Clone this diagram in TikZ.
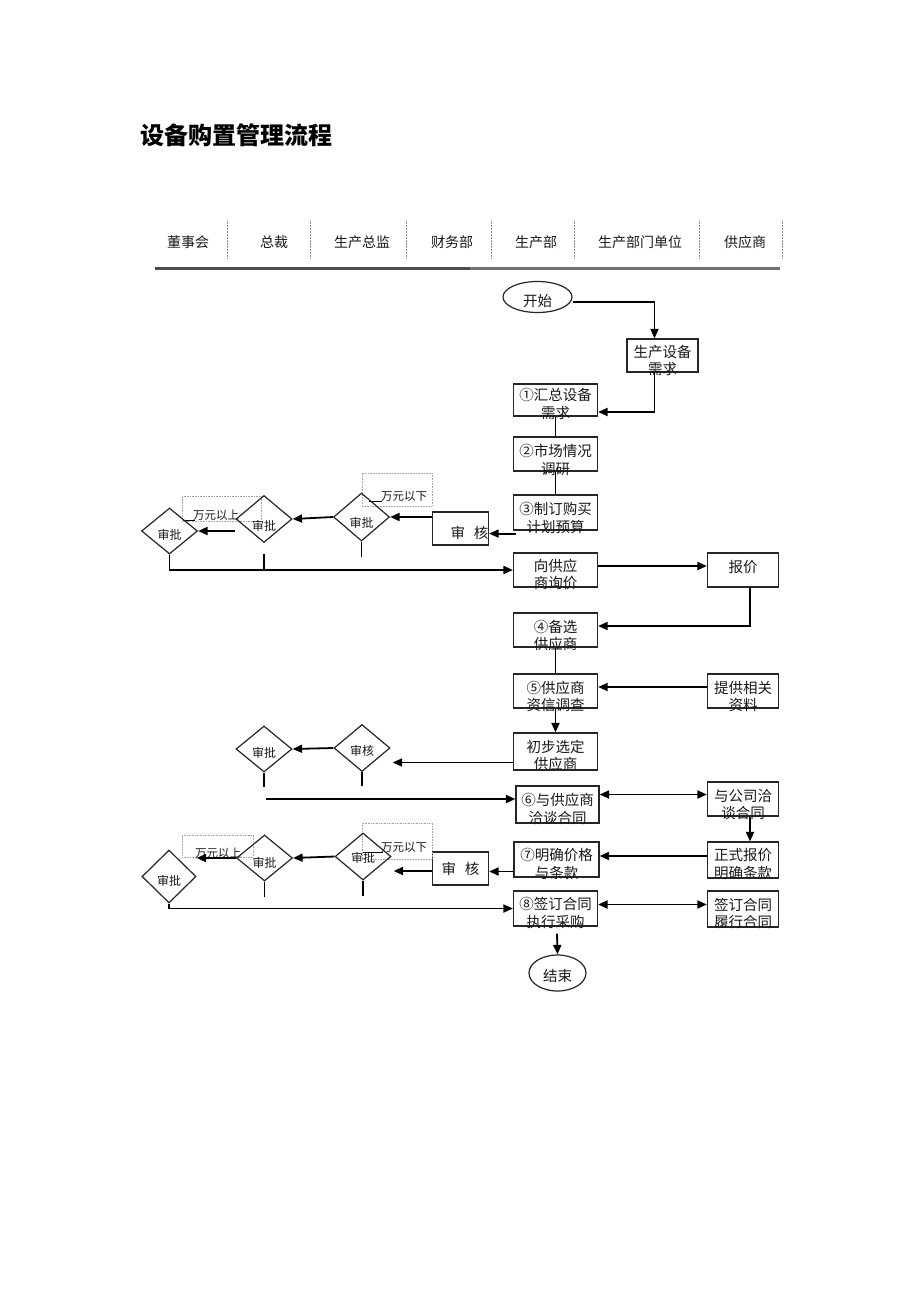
\documentclass[tikz,border=0pt]{standalone}
\usepackage{fontspec}
\setmainfont{Noto Sans CJK SC}
\usetikzlibrary{shapes.geometric,arrows.meta}
\begin{document}
\begin{tikzpicture}[x=1pt,y=-1pt,
  box/.style={draw=black!85,line width=1.2pt,rectangle,inner sep=0pt},
  dia/.style={draw=black!85,line width=1.2pt,diamond,inner sep=0pt},
  oval/.style={draw=black!85,line width=1.2pt,ellipse,inner sep=0pt},
  txt/.style={font=\fontsize{14.5}{17.5}\selectfont,align=center,text=black!90,inner sep=0pt},
  dtxt/.style={font=\fontsize{12}{14}\selectfont,text=black!90,inner sep=0pt},
  hdr/.style={font=\fontsize{14}{16}\selectfont,text=black!90,inner sep=0pt},
  ntxt/.style={font=\fontsize{11.5}{13}\selectfont,text=black!90,inner sep=0pt},
  sepline/.style={draw=black!45,line width=0.5pt,densely dotted},
  note/.style={draw=black!35,line width=0.6pt,densely dotted,rectangle,inner sep=0pt},
  conn/.style={line width=1.8pt,-{Triangle[length=9.5pt,width=8pt]}},
  dconn/.style={line width=1.8pt,{Triangle[length=9.5pt,width=8pt]}-{Triangle[length=9.5pt,width=8pt]}},
  plain/.style={line width=1.8pt},
  thin/.style={line width=0.9pt}
]
\useasboundingbox[fill=white] (0,0) rectangle (920,1302);

% title
\node[font=\fontsize{24}{28}\selectfont\bfseries,anchor=west,inner sep=0pt] (title) at (140,135) {设备购置管理流程};

% header
\node[hdr] (h1) at (188,242) {董事会};
\node[hdr] (h2) at (274,242) {总裁};
\node[hdr] (h3) at (362,242) {生产总监};
\node[hdr] (h4) at (452,242) {财务部};
\node[hdr] (h5) at (536,242) {生产部};
\node[hdr] (h6) at (640,242) {生产部门单位};
\node[hdr] (h7) at (745,242) {供应商};
\foreach \x in {227,310,406,491,574,699,782}{\draw[sepline] (\x,220) -- (\x,258);}
\draw[line width=3pt,black!70] (155,268) -- (470,268);
\draw[line width=3pt,black!55] (470,268) -- (780,268);

% main column
\node[oval,minimum width=69,minimum height=31,label={[txt,yshift=-4pt]center:开始}] (start) at (537.5,297) {};
\node[box,minimum width=71,minimum height=33,label={[txt,yshift=-5pt]center:生产设备\\需求}] (req) at (662.5,355.5) {};
\node[box,minimum width=84,minimum height=32,label={[txt,yshift=-4pt]center:①汇总设备\\需求}] (s1) at (555.5,400) {};
\node[box,minimum width=84,minimum height=34,label={[txt,yshift=-6pt]center:②市场情况\\调研}] (s2) at (555.5,454) {};
\node[box,minimum width=84,minimum height=35,label={[txt,yshift=-5.5pt]center:③制订购买\\计划预算}] (s3) at (555.5,512.5) {};
\node[box,minimum width=56,minimum height=33,label={[txt,xshift=9pt,yshift=-4.5pt]center:审\hspace{9pt}核}] (rev1) at (460.5,528.5) {};
\node[box,minimum width=84,minimum height=34,label={[txt,yshift=-4.5pt]center:向供应\\商询价}] (inq) at (555.5,570) {};
\node[box,minimum width=71,minimum height=34,label={[txt,yshift=3pt]center:报价}] (quote) at (743,570) {};
\node[box,minimum width=84,minimum height=34,label={[txt,yshift=-5.5pt]center:④备选\\供应商}] (s4) at (555.5,630) {};
\node[box,minimum width=84,minimum height=34,label={[txt,yshift=-5.5pt]center:⑤供应商\\资信调查}] (s5) at (555.5,691) {};
\node[box,minimum width=71,minimum height=34,label={[txt,yshift=-5.5pt]center:提供相关\\资料}] (info) at (743,691) {};
\node[box,minimum width=84,minimum height=37,label={[txt,yshift=-4pt]center:初步选定\\供应商}] (pre) at (555.5,751.5) {};
\node[box,minimum width=83,minimum height=37,label={[txt,yshift=-4.5pt]center:⑥与供应商\\洽谈合同}] (s6) at (557.5,804.5) {};
\node[box,minimum width=71,minimum height=34,label={[txt,yshift=-5.5pt]center:与公司洽\\谈合同}] (neg) at (743,799) {};
\node[box,minimum width=71,minimum height=36,label={[txt,yshift=-4pt]center:正式报价\\明确条款}] (formal) at (743,860) {};
\node[box,minimum width=85,minimum height=35,label={[txt,yshift=-4.5pt]center:⑦明确价格\\与条款}] (s7) at (556.5,859.5) {};
\node[box,minimum width=56,minimum height=33,label={[txt]center:审\hspace{9pt}核}] (rev2) at (460.5,868.5) {};
\node[box,minimum width=84,minimum height=35,label={[txt,yshift=-4.5pt]center:⑧签订合同\\执行采购}] (s8) at (555.5,908.5) {};
\node[box,minimum width=71,minimum height=36,label={[txt,yshift=-4.5pt]center:签订合同\\履行合同}] (sign) at (743,909) {};
\node[oval,minimum width=57,minimum height=36,label={[txt,yshift=-3pt]center:结束}] (end) at (557.5,973) {};

% notes (amount thresholds)
\node[note,minimum width=70,minimum height=33] (n1) at (397,489.5) {};
\node[ntxt] (n1t) at (404,496) {万元以下};
\draw[thin] (369,501) -- (382,501);
\node[note,minimum width=79,minimum height=25] (n2) at (221.5,508.5) {};
\node[ntxt] (n2t) at (216,515) {万元以上};
\draw[thin] (183,520.5) -- (195,520.5);
\node[note,minimum width=70,minimum height=36] (n3) at (397,841) {};
\node[ntxt] (n3t) at (404,847) {万元以下};
\draw[thin] (363,852) -- (383,852);
\node[note,minimum width=71,minimum height=22] (n4) at (217.5,846) {};
\node[ntxt] (n4t) at (218,853) {万元以上};

% diamonds
\node[dia,minimum width=56,minimum height=48,label={[dtxt,yshift=-6pt]center:审批}] (d1) at (361.5,517) {};
\node[dia,minimum width=56,minimum height=47,label={[dtxt,yshift=-7pt]center:审批}] (d2) at (264,519) {};
\node[dia,minimum width=56,minimum height=46,label={[dtxt,yshift=-4pt]center:审批}] (d3) at (169.5,531) {};
\node[dia,minimum width=56,minimum height=47,label={[dtxt,yshift=-3pt]center:审核}] (d4) at (362,748) {};
\node[dia,minimum width=56,minimum height=46,label={[dtxt,yshift=-4pt]center:审批}] (d5) at (264,749) {};
\node[dia,minimum width=56,minimum height=47,label={[dtxt,yshift=-1pt]center:审批}] (d6) at (363,856.5) {};
\node[dia,minimum width=56,minimum height=46,label={[dtxt,yshift=-5pt]center:审批}] (d7) at (264.5,858) {};
\node[dia,minimum width=54,minimum height=53,label={[dtxt,yshift=-4pt]center:审批}] (d8) at (169,876.5) {};

% connectors
\draw[conn] ([yshift=-5]start.east) -| ([xshift=-8]req.north);
\draw[conn] ([xshift=-8]req.south) |- ([yshift=-12]s1.east);
\draw[plain] (s1.south) -- (s2.north);
\draw[plain] (s2.south) -- (s3.north);
\draw[conn] ([xshift=3,yshift=-3]s3.south west) coordinate (a5) -- (a5 -| rev1.east);
\draw[conn] (rev1.west |- d1.east) -- (d1.east);
\draw[conn] (d1.west) -- (d2.east);
\draw[plain] (d1.south) -- ++(0,15);
\draw[plain] ([yshift=-11]d2.south) -- ++(0,15);
\draw[conn] (d2.west |- d3.east) -- (d3.east);
\draw[conn] (d3.south) |- (inq.west);
\draw[conn] ([yshift=4]inq.east) -- ([yshift=4]quote.west);
\draw[conn] ([xshift=7]quote.south) |- ([yshift=4]s4.east);
\draw[plain] (s4.south) -- (s5.north);
\draw[conn] ([yshift=4]info.west) -- ([yshift=4]s5.east);
\draw[conn] (s5.south) -- (pre.north);
\draw[conn] ([yshift=-11]pre.west) coordinate (a17) -- ([xshift=2]a17 -| d4.east);
\draw[conn] (d4.west) -- (d5.east);
\draw[plain] (d4.south) -- ++(0,14);
\draw[plain] (d5.south) -- ++(0,14);
\coordinate (c6) at (266,799);
\draw[conn] (c6) -- (c6 -| s6.west);
\draw[dconn] ([yshift=10]s6.east) coordinate (a21) -- (a21 -| neg.west);
\draw[conn] ([xshift=7]neg.south) -- ([xshift=7]formal.north);
\draw[conn] ([yshift=4]formal.west) coordinate (a23) -- (a23 -| s7.east);
\draw[conn] ([yshift=-12]s7.west) coordinate (a24) -- (a24 -| rev2.east);
\draw[conn] ([yshift=-2.5]rev2.west) coordinate (a25) -- ([xshift=2]a25 -| d6.east);
\draw[conn] (d6.west) -- (d7.east);
\draw[plain] (d6.south) -- ++(0,15);
\draw[plain] (d7.south) -- ++(0,15);
\draw[conn] (d7.west) -- (d7.west -| d8.east);
\draw[conn] (d8.south) |- (s8.west);
\draw[dconn] ([yshift=4]s8.east) coordinate (a30) -- (a30 -| sign.west);
\draw[conn] ([xshift=1.5,yshift=-7]s8.south) -- (end.north);
\end{tikzpicture}
\end{document}
